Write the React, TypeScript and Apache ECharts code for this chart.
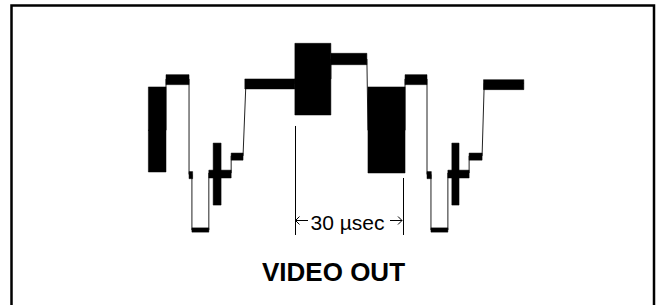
import React, { useEffect, useRef } from "react";
import * as echarts from "echarts";

// time in microseconds, level in IRE-like units (blanking = 0, sync tip = -40)
const tracePoints: [number, number][] = [
  [0, 30], [5, 30], [5, 66], [11.4, 66], [11.4, -1], [12.2, -1], [12.2, -40],
  [16.9, -40], [16.9, 0], [23.1, 0], [23.1, 12], [26.4, 12], [27.2, 63],
  [40.8, 63], [40.8, 66], [50.8, 66], [50.8, 80], [60.8, 80], [61.1, 30],
  [71.4, 30], [71.4, 66], [77.5, 66], [77.5, -1], [78.6, -1], [78.6, -40],
  [83.3, -40], [83.3, 0], [89.2, 0], [89.2, 12], [92.8, 12], [93.4, 63],
  [104.4, 63],
];

// noisy plateaus: [start, end, low, high]
const plateaus: [number, number, number, number][] = [
  [5, 11.4, 62, 69],
  [11.4, 12.4, -4, 1],
  [12.2, 16.9, -41.5, -38.5],
  [16.9, 23.1, -3.5, 2],
  [23.1, 26.4, 9, 14],
  [26.9, 40.8, 59, 66],
  [50.8, 60.8, 76, 84],
  [71.4, 77.5, 62, 69],
  [77.5, 78.7, -4, 1],
  [78.6, 83.3, -41.5, -38.5],
  [83.3, 89.2, -3.5, 2],
  [89.2, 92.8, 9, 14],
  [93.2, 104.4, 58.5, 65.5],
];

// colour bursts: [start, end, low, high]
const bursts: [number, number, number, number][] = [
  [0.1, 5, 0.7, 60.4],
  [18.1, 20.3, -22.5, 21],
  [40.8, 50.8, 40.7, 91],
  [61.1, 71.4, 0, 60.4],
  [84.4, 86.4, -22.5, 21],
];

// 30 µsec marker lines: [time, top level, bottom level]
const markers: [number, number, number][] = [
  [40.8, 33, -43.5],
  [70.8, -3.5, -43.5],
];

const markerLabel = "30 µsec";
const titleLabel = "VIDEO OUT";

export default function App() {
  const ref = useRef<HTMLDivElement>(null);
  useEffect(() => {
    if (!ref.current) return;
    const chart = echarts.init(ref.current, undefined, { renderer: "svg" });
    const rectItem = (params: any, api: any) => {
      const p0 = api.coord([api.value(0), api.value(3)]);
      const p1 = api.coord([api.value(1), api.value(2)]);
      return {
        type: "rect",
        shape: { x: p0[0], y: p0[1], width: p1[0] - p0[0], height: p1[1] - p0[1] },
        style: { fill: "#000", stroke: "#000", lineWidth: 0.5 },
      };
    };
    const font = "'Liberation Sans', Arial, Helvetica, sans-serif";
    chart.setOption({
      animation: false,
      backgroundColor: "#fff",
      grid: { left: 148, right: 134, top: 30.5, bottom: 60.75 },
      xAxis: { type: "value", min: 0, max: 105, show: false },
      yAxis: { type: "value", min: -50, max: 100, show: false },
      series: [
        {
          type: "line",
          data: tracePoints,
          symbol: "none",
          z: 1,
          lineStyle: { color: "#222", width: 1 },
          emphasis: { disabled: true },
          silent: true,
          markLine: {
            silent: true,
            symbol: ["none", "none"],
            label: { show: false },
            lineStyle: { color: "#000", width: 1, type: "solid" },
            data: markers.map((m) => [{ coord: [m[0], m[1]] }, { coord: [m[0], m[2]] }]),
          },
        },
        {
          type: "custom",
          data: plateaus,
          renderItem: rectItem,
          encode: { x: [0, 1], y: [2, 3] },
          z: 5,
          silent: true,
        },
        {
          type: "custom",
          data: bursts,
          renderItem: rectItem,
          encode: { x: [0, 1], y: [2, 3] },
          z: 6,
          silent: true,
        },
      ],
      graphic: [
        {
          type: "rect",
          shape: { x: 11.5, y: 5.5, width: 642.5, height: 310 },
          style: { fill: "none", stroke: "#000", lineWidth: 2.5 },
          silent: true,
        },
        {
          type: "line",
          shape: { x1: 295, y1: 220.5, x2: 308, y2: 220.5 },
          style: { stroke: "#000", lineWidth: 1 },
        },
        {
          type: "polyline",
          shape: { points: [[299.5, 216.5], [295.5, 220.5], [299.5, 224.5]] },
          style: { stroke: "#000", lineWidth: 1, fill: "none" },
        },
        {
          type: "line",
          shape: { x1: 390, y1: 220.5, x2: 402, y2: 220.5 },
          style: { stroke: "#000", lineWidth: 1 },
        },
        {
          type: "polyline",
          shape: { points: [[398, 216.5], [402, 220.5], [398, 224.5]] },
          style: { stroke: "#000", lineWidth: 1, fill: "none" },
        },
        {
          type: "text",
          x: 347.5,
          y: 222,
          style: {
            text: markerLabel,
            fill: "#000",
            font: `21px ${font}`,
            textAlign: "center",
            textVerticalAlign: "middle",
          },
        },
        {
          type: "text",
          x: 333.5,
          y: 272,
          style: {
            text: titleLabel,
            fill: "#000",
            font: `bold 26px ${font}`,
            textAlign: "center",
            textVerticalAlign: "middle",
          },
        },
      ],
    });
    return () => chart.dispose();
  }, []);
  return (
    <div
      ref={ref}
      style={{ position: "fixed", left: 0, top: 0, width: 660, height: 305, background: "#fff" }}
    />
  );
}
